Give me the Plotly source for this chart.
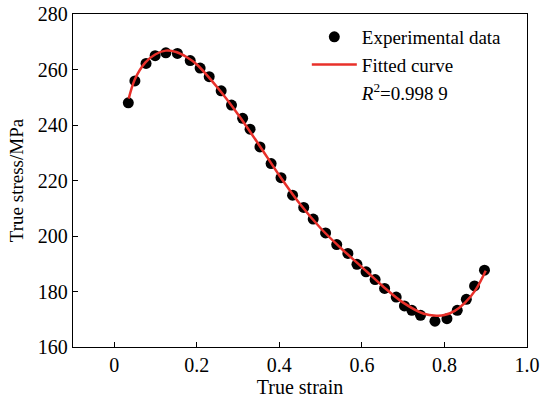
import plotly.graph_objects as go

strain_exp = [0.034, 0.050, 0.077, 0.099, 0.125, 0.153, 0.184, 0.208, 0.230, 0.259,
              0.284, 0.311, 0.329, 0.353, 0.380, 0.404, 0.432, 0.459, 0.482, 0.512,
              0.539, 0.566, 0.588, 0.610, 0.632, 0.655, 0.683, 0.703, 0.721, 0.742,
              0.777, 0.806, 0.831, 0.853, 0.873, 0.897]
stress_exp = [248.0, 255.9, 262.2, 265.0, 266.0, 265.8, 263.2, 260.5, 257.4, 252.3,
              247.2, 242.4, 238.5, 232.1, 226.1, 221.0, 214.7, 210.3, 206.1, 201.1,
              196.9, 193.7, 189.8, 187.1, 184.3, 181.1, 178.0, 174.8, 173.2, 171.4,
              169.3, 170.2, 173.2, 177.2, 182.0, 187.7]

strain_fit = [0.035, 0.05, 0.075, 0.1, 0.125, 0.15, 0.175, 0.2, 0.25, 0.3, 0.35, 0.4,
              0.45, 0.5, 0.55, 0.6, 0.65, 0.7, 0.75, 0.78, 0.8, 0.825, 0.85, 0.875, 0.9]
stress_fit = [249.5, 256.5, 262.5, 265.5, 266.8, 266.3, 264.5, 261.8, 253.5, 243.8,
              233.0, 221.8, 211.5, 202.8, 195.5, 188.8, 182.0, 176.0, 172.0, 171.3,
              171.5, 173.0, 176.0, 180.5, 187.5]

x_ticks = [0, 0.2, 0.4, 0.6, 0.8, 1.0]
x_tick_labels = ["0", "0.2", "0.4", "0.6", "0.8", "1.0"]
y_ticks = [160, 180, 200, 220, 240, 260, 280]

FONT = "Liberation Serif"

fig = go.Figure()
fig.add_trace(go.Scatter(x=strain_exp, y=stress_exp, mode="markers",
                         marker=dict(color="black", size=11),
                         name="Experimental data"))
fig.add_trace(go.Scatter(x=strain_fit, y=stress_fit, mode="lines",
                         line=dict(color="#e8302a", width=2.5, shape="spline"),
                         name="Fitted curve"))
fig.add_trace(go.Scatter(x=[None], y=[None], mode="lines",
                         line=dict(color="rgba(0,0,0,0)", width=0),
                         name="<i>R</i><sup>2</sup>=0.998 9"))

axis_common = dict(showline=True, linecolor="black", linewidth=1.3, mirror=True,
                   ticks="inside", ticklen=5, tickcolor="black", tickwidth=1.2,
                   showgrid=False, zeroline=False, automargin=False,
                   tickfont=dict(family=FONT, size=20, color="black"))

fig.update_xaxes(range=[-0.1, 1.0], tickvals=x_ticks, ticktext=x_tick_labels,
                 title=dict(text="True strain", font=dict(family=FONT, size=20, color="black"),
                            standoff=3),
                 **axis_common)
fig.update_yaxes(range=[160, 280], tickvals=y_ticks,
                 title=dict(text="True stress/MPa", font=dict(family=FONT, size=19, color="black"),
                            standoff=9),
                 **axis_common)

fig.update_layout(
    width=542, height=400,
    margin=dict(l=73, r=15, t=14, b=53),
    plot_bgcolor="white", paper_bgcolor="white",
    font=dict(family=FONT, size=20, color="black"),
    legend=dict(x=0.515, y=0.988, xanchor="left", yanchor="top",
                bgcolor="rgba(0,0,0,0)", font=dict(family=FONT, size=19, color="black"),
                tracegroupgap=0, itemwidth=45),
)

fig.write_html("out.html")
